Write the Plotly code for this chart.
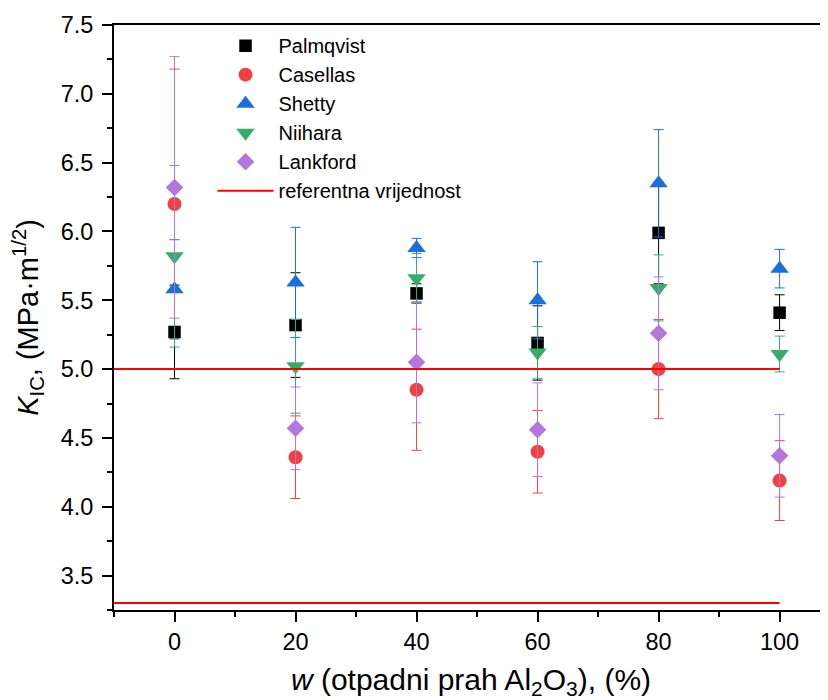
import plotly.graph_objects as go

# ---- data ----
w = [0, 20, 40, 60, 80, 100]

palmqvist = [5.27, 5.32, 5.55, 5.19, 5.99, 5.41]
palmqvist_err = [0.34, 0.38, 0.07, 0.27, 0.37, 0.13]

casellas = [6.20, 4.36, 4.85, 4.40, 5.00, 4.19]
casellas_err = [0.98, 0.30, 0.44, 0.30, 0.36, 0.29]

shetty = [5.58, 5.63, 5.88, 5.50, 6.35, 5.73]
shetty_err = [0.36, 0.40, 0.07, 0.28, 0.39, 0.14]

niihara = [5.82, 5.02, 5.66, 5.12, 5.59, 5.11]
niihara_err = [0.66, 0.34, 0.18, 0.19, 0.24, 0.13]

lankford = [6.32, 4.57, 5.05, 4.56, 5.26, 4.37]
lankford_err = [0.95, 0.30, 0.44, 0.34, 0.41, 0.30]

ref_x = [-10, 100]
ref_upper = [5.0, 5.0]
ref_lower = [3.3, 3.3]

series = [
    ("Palmqvist", palmqvist, palmqvist_err, "#000000", "square", 12.5),
    ("Casellas", casellas, casellas_err, "#F14040", "circle", 14),
    ("Shetty", shetty, shetty_err, "#1A6FDF", "triangle-up", 16),
    ("Niihara", niihara, niihara_err, "#37AD6B", "triangle-down", 16),
    ("Lankford", lankford, lankford_err, "#B177DE", "diamond", 13.5),
]

FONT = "Arial, 'Liberation Sans', sans-serif"

fig = go.Figure()
for name, y, err, color, sym, size in series:
    fig.add_trace(go.Scatter(
        x=w, y=y, mode="markers", name=name,
        marker=dict(symbol=sym, size=size, color=color, line=dict(width=0)),
        error_y=dict(type="data", array=err, visible=True, color=color,
                     thickness=1, width=5),
    ))

fig.add_trace(go.Scatter(
    x=ref_x, y=ref_upper, mode="lines", name="referentna vrijednost",
    line=dict(color="#FF0000", width=2),
))
fig.add_trace(go.Scatter(
    x=ref_x, y=ref_lower, mode="lines", name="referentna vrijednost",
    line=dict(color="#FF0000", width=2), showlegend=False,
))

fig.update_layout(
    width=820, height=692,
    margin=dict(l=106, r=0, t=17, b=90),
    paper_bgcolor="white", plot_bgcolor="white",
    font=dict(family=FONT, color="black", size=24),
    showlegend=True,
    legend=dict(
        x=0.138, y=0.998, xanchor="left", yanchor="top",
        bgcolor="rgba(0,0,0,0)", borderwidth=0,
        font=dict(size=20, family=FONT),
        itemwidth=56,
        tracegroupgap=0,
    ),
    xaxis=dict(
        range=[-10, 108.0], automargin=False,
        tickmode="linear", tick0=0, dtick=20,
        ticks="outside", ticklen=10, tickwidth=2, tickcolor="black",
        minor=dict(ticks="outside", ticklen=5, tickwidth=2, tickcolor="black", dtick=10, tick0=0),
        showline=True, linecolor="black", linewidth=2, mirror=True,
        showgrid=False, zeroline=False,
        tickfont=dict(size=23.5),
        title=dict(text="<i>w</i> (otpadni prah Al<sub>2</sub>O<sub>3</sub>), (%)",
                   font=dict(size=30)),
    ),
    yaxis=dict(
        range=[3.25, 7.5], automargin=False,
        tickmode="linear", tick0=0, dtick=0.5, tickformat=".1f",
        ticks="outside", ticklen=10, tickwidth=2, tickcolor="black",
        minor=dict(ticks="outside", ticklen=5, tickwidth=2, tickcolor="black", dtick=0.25, tick0=0),
        showline=True, linecolor="black", linewidth=2, mirror=False,
        showgrid=False, zeroline=False,
        tickfont=dict(size=23.5), ticklabelstandoff=4,
        title=dict(text="<i>K</i><sub>IC</sub>, (MPa·m<sup>1/2</sup>)",
                   font=dict(size=29)),
    ),
)

fig.write_html("out.html")
